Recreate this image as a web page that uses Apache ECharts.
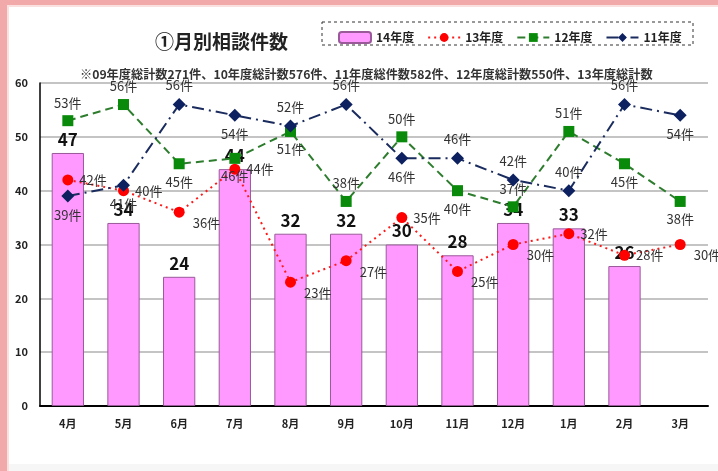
<!DOCTYPE html>
<html>
<head>
<meta charset="utf-8">
<script src="https://cdn.jsdelivr.net/npm/echarts@6/dist/echarts.min.js"></script>
<style>
html,body{margin:0;padding:0;background:#fff;}
#c{width:718px;height:471px;}
</style>
</head>
<body>
<div id="c"></div>
<script>
const months = ['4月','5月','6月','7月','8月','9月','10月','11月','12月','1月','2月','3月'];
const fy14 = [47,34,24,44,32,32,30,28,34,33,26,null];
const fy13 = [42,40,36,44,23,27,35,25,30,32,28,30];
const fy12 = [53,56,45,46,51,38,50,40,37,51,45,38];
const fy11 = [39,41,56,54,52,56,46,46,42,40,56,54];
const yTicks = [0,10,20,30,40,50,60];

// label placement (style only)
const pos13 = ['r','r','br','r','br','br','r','br','br','r','r','br'];
const pos12 = ['t','t','b','b','b','t','t','b','t','t','b','b'];
const pos11 = ['b','b','t','b','t','t','b','t','t','t','t','b'];

function lbl(p){
  if(p==='t') return {position:'top',distance:6};
  if(p==='b') return {position:'bottom',distance:6};
  if(p==='r') return {position:'right',distance:6};
  return {position:'right',distance:6,offset:[2,11]};
}
function items(vals,pos){
  return vals.map((v,i)=>({value:v,label:lbl(pos[i])}));
}

const font = '"Noto Sans CJK JP","Noto Sans",sans-serif';
const lineLabel = {show:true,formatter:'{c}件',color:'#333',fontSize:13,fontFamily:font};

const chart = echarts.init(document.getElementById('c'));
chart.setOption({
  animation:false,
  textStyle:{fontFamily:font},
  graphic:[
    {type:'rect',shape:{x:0,y:0,width:718,height:5},style:{fill:'#f2a9a9'}},
    {type:'rect',shape:{x:0,y:0,width:7,height:471},style:{fill:'#f2a9a9'}},
    {type:'rect',shape:{x:7,y:5,width:711,height:2},style:{fill:'#fbe0e0'}},
    {type:'rect',shape:{x:7,y:5,width:2,height:466},style:{fill:'#fbe0e0'}},
    {type:'rect',shape:{x:9,y:464,width:709,height:7},style:{fill:'#f6f6f6'}},
    {type:'rect',shape:{x:322,y:22,width:371,height:23},style:{fill:'none',stroke:'#333',lineWidth:1,lineDash:[3,3]}}
  ],
  title:[
    {text:'①月別相談件数',left:150,top:27,textStyle:{fontSize:19,fontWeight:'bold',color:'#222',fontFamily:font}},
    {text:'※09年度総計数271件、10年度総計数576件、11年度総件数582件、12年度総計数550件、13年度総計数',left:75,top:63,textStyle:{fontSize:12.2,fontWeight:'bold',color:'#333',fontFamily:font}}
  ],
  legend:{
    left:333,top:26,itemWidth:32,itemHeight:11,itemGap:13,
    textStyle:{fontSize:12,fontWeight:'bold',color:'#222',fontFamily:font},
    data:['14年度','13年度','12年度','11年度']
  },
  grid:{left:40,right:10,top:83,bottom:65},
  xAxis:{
    type:'category',data:months,boundaryGap:true,
    axisLine:{lineStyle:{color:'#000',width:2}},
    axisTick:{inside:true,length:5,lineStyle:{color:'#000'}},
    axisLabel:{color:'#222',fontSize:11,fontWeight:'bold',margin:12,fontFamily:font}
  },
  yAxis:{
    type:'value',min:yTicks[0],max:yTicks[yTicks.length-1],interval:10,
    axisLine:{show:true,lineStyle:{color:'#000',width:1.5}},
    axisTick:{show:false},
    axisLabel:{color:'#222',fontSize:11,fontWeight:'bold',margin:12,fontFamily:font},
    splitLine:{lineStyle:{color:'#c4c4c4',width:2}}
  },
  series:[
    {name:'14年度',type:'bar',data:fy14,barWidth:'58%',z:1,
     itemStyle:{color:'#ff99ff',borderColor:'#9a5a9a',borderWidth:1},
     label:{show:true,position:'top',color:'#111',fontSize:17,fontWeight:'bold',distance:5,fontFamily:font}},
    {name:'13年度',type:'line',data:items(fy13,pos13),z:3,
     symbol:'circle',symbolSize:11,
     lineStyle:{color:'#ff1a1a',width:2,type:[2,4]},
     itemStyle:{color:'#ff0000'},label:lineLabel},
    {name:'12年度',type:'line',data:items(fy12,pos12),z:4,
     symbol:'rect',symbolSize:11,
     lineStyle:{color:'#2e7d2e',width:2,type:[8,5]},
     itemStyle:{color:'#0a8a0a'},label:lineLabel},
    {name:'11年度',type:'line',data:items(fy11,pos11),z:5,
     symbol:'diamond',symbolSize:13,
     lineStyle:{color:'#1a2b5e',width:2,type:[12,5,2,5]},
     itemStyle:{color:'#0d2060'},label:lineLabel}
  ]
});
</script>
</body>
</html>
